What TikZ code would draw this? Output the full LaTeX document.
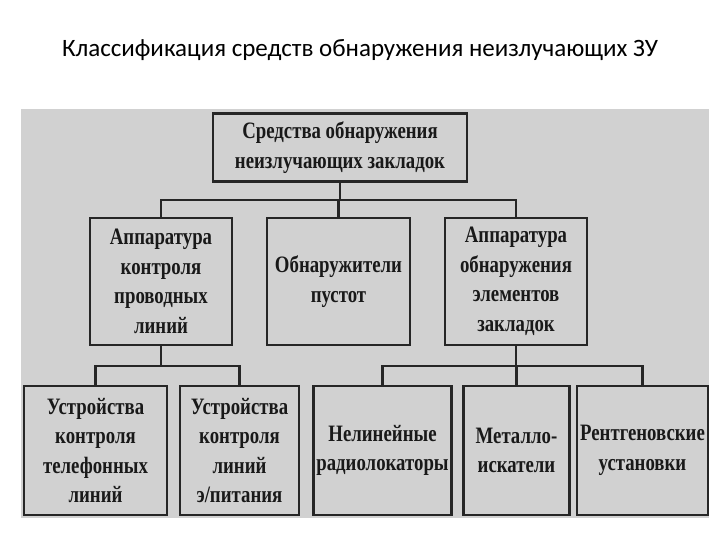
\documentclass[tikz,border=0pt]{standalone}
\usepackage{fontspec}
\setmainfont{Liberation Serif}
\newfontfamily\titlefont{Carlito}
\newfontfamily\boxfont[FakeStretch=0.80]{Liberation Serif}
\usetikzlibrary{positioning}

\begin{document}
\begin{tikzpicture}[
  x=1pt, y=-1pt,
  box/.style={rectangle, draw=black!85, line width=2.4pt, fill=black!18, inner sep=0pt, align=center, text=black!90, font=\boxfont\bfseries\fontsize{23.5}{29.5}\selectfont},
  link/.style={draw=black!85, line width=2.2pt},
]
\useasboundingbox (0,0) rectangle (720,540);
\fill[white] (0,0) rectangle (720,540);
\fill[black!18] (21,109) rectangle (709,518);

\node[font=\titlefont\fontsize{25}{30}\selectfont] (title) at (360,50) {Классификация средств обнаружения неизлучающих ЗУ};

% top level
\node[box, minimum width=254pt, minimum height=68pt] (means) at (340,147.5) {Средства обнаружения\\неизлучающих закладок};

% second level
\node[box, minimum width=142pt, minimum height=127pt] (wires) at (161,281.5) {Аппаратура\\контроля\\проводных\\линий};
\node[box, minimum width=143pt, minimum height=127pt] (voids) at (338.5,281.5) {Обнаружители\\пустот};
\node[box, minimum width=142pt, minimum height=127pt] (parts) at (516,281.5) {Аппаратура\\обнаружения\\элементов\\закладок};

% third level
\node[box, minimum width=143pt, minimum height=129pt] (phone) at (95.5,450.5) {Устройства\\контроля\\телефонных\\линий};
\node[box, minimum width=119pt, minimum height=129pt] (power) at (239.5,450.5) {Устройства\\контроля\\линий\\э/питания};
\node[box, minimum width=138pt, minimum height=129pt] (radar) at (382.5,450.5) {Нелинейные\\радиолокаторы};
\node[box, minimum width=106pt, minimum height=129pt] (metal) at (516.5,450.5) {Металло-\\искатели};
\node[box, minimum width=131pt, minimum height=129pt] (xray) at (642.5,450.5) {Рентгеновские\\установки};

% connectors
\coordinate (jtop) at (340,200);
\coordinate (jleft) at (161,366);
\coordinate (jright) at (516,366);
\draw[link] (means) -- (jtop);
\draw[link] (jtop) -| (wires);
\draw[link] (jtop) -| (voids);
\draw[link] (jtop) -| (parts);
\draw[link] (wires) -- (jleft);
\draw[link] (jleft) -| (phone);
\draw[link] (jleft) -| (power);
\draw[link] (parts) -- (jright);
\draw[link] (jright) -| (radar);
\draw[link] (jright) -| (metal);
\draw[link] (jright) -| (xray);
\end{tikzpicture}
\end{document}
